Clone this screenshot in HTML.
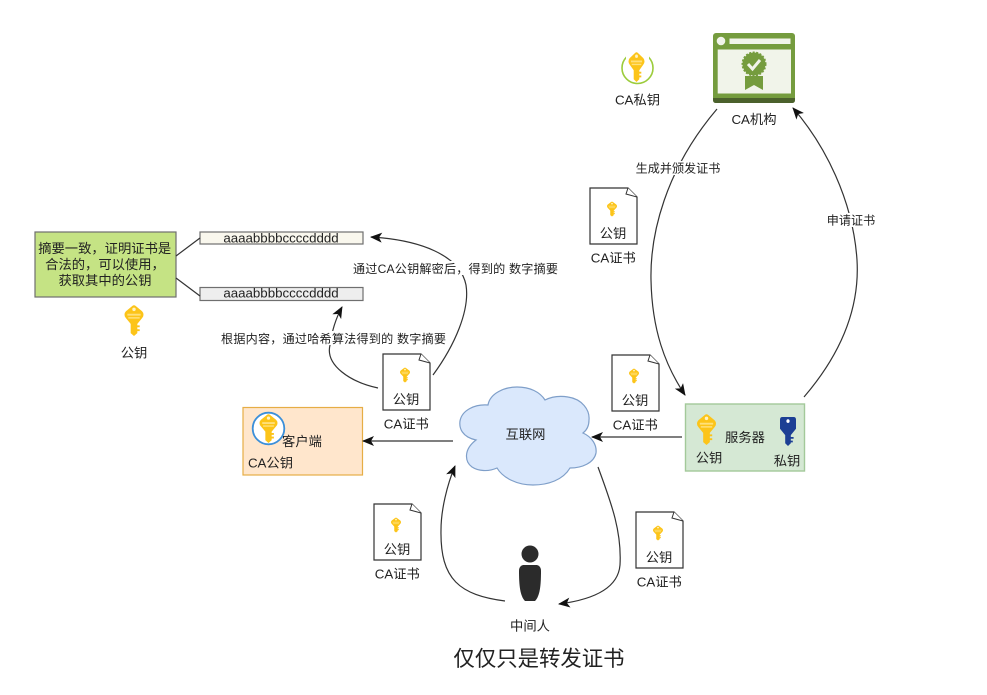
<!DOCTYPE html>
<html><head><meta charset="utf-8">
<style>
html,body{margin:0;padding:0;background:#fff;width:987px;height:695px;overflow:hidden}
svg{display:block}
text{font-family:"Liberation Sans","Noto Sans CJK SC",sans-serif;font-size:13.3px;fill:#222;text-anchor:middle}
text.s{font-size:12.1px}
.c{fill:none;stroke:#333;stroke-width:1.2}
</style></head><body>
<svg width="987" height="695" viewBox="0 0 987 695" xmlns="http://www.w3.org/2000/svg">
<defs>
<marker id="a" viewBox="0 0 12 10" refX="11" refY="5" markerWidth="12" markerHeight="10" markerUnits="userSpaceOnUse" orient="auto"><path d="M0,0 L12,5 L0,10 L3,5 Z" fill="#111"/></marker>
<symbol id="k" viewBox="0 0 20 32" preserveAspectRatio="none">
<path d="M8.500,0.800 Q10,-0.200 11.500,0.800 L18.500,6.500 Q20,8 20,10 Q20,12 18.500,13.500 L13.500,19.500 V21 H16 V23 H13.500 V25 H16 V27 H13.500 V29 L10,32 L6.500,29 V19.500 L1.500,13.500 Q0,12 0,10 Q0,8 1.500,6.500 Z" fill="#fcc419"/>
<circle cx="10" cy="4.500" r="1.800" fill="#fff3c4"/>
<path d="M3,9 H17 V11 H3 Z M4,12.500 H16 V14 H4 Z" fill="#ffe07a"/>
</symbol>
<symbol id="kb" viewBox="0 0 20 32" preserveAspectRatio="none">
<path d="M3,0 H17 Q20,0 20,3 V13 L13.500,20 V22 H17 V24 H13.500 V26 H16 V28 H13.500 V29 L10,32 L6.500,29 V20 L0,13 V3 Q0,0 3,0 Z" fill="#1c3f94"/>
<circle cx="10" cy="4.500" r="2" fill="#fff"/>
</symbol>
</defs>

<!-- left section -->
<rect x="35" y="232" width="141" height="65" fill="#c5e384" stroke="#6f6f6f" stroke-width="1.2"/>
<text x="104.700" y="253">摘要一致，证明证书是</text>
<text x="105" y="269">合法的，可以使用，</text>
<text x="105" y="285">获取其中的公钥</text>
<rect x="200" y="232" width="163" height="12" fill="#f9f7ed" stroke="#6f6f6f" stroke-width="1.2"/>
<rect x="200" y="287.500" width="163" height="13" fill="#eeeeee" stroke="#6f6f6f" stroke-width="1.2"/>
<text x="281" y="242.500">aaaabbbbccccdddd</text>
<text x="281" y="297.500">aaaabbbbccccdddd</text>
<path d="M176,256 L200,238 M176,278 L200,296" class="c"/>
<use href="#k" x="124.500" y="305" width="19" height="31"/>
<text x="134" y="357.500">公钥</text>

<!-- client -->
<rect x="243" y="407.500" width="119.500" height="67.500" fill="#ffe6cc" stroke="#e6ad45" stroke-width="1.2"/>
<circle cx="268.500" cy="428.500" r="15.800" fill="#fff" stroke="#3b8fd9" stroke-width="1.8"/>
<use href="#k" x="259.500" y="414" width="18" height="29"/>
<text x="302" y="446">客户端</text>
<text x="270.500" y="467.500">CA公钥</text>

<!-- cloud -->
<path d="M476,440 C462,437 459,428 460,421 C462,410 475,404 488,405 C490,393 505,387 517,387 C530,387 540,392 545,400 C553,396 562,396 568,397 C582,399 590,410 589,420 C589,426 587,430 583,433 C592,437 597,445 596,453 C594,463 582,468 570,468 C563,480 548,485 533,485 C517,485 503,478 497,468 C488,472 478,471 472,467 C465,462 463,450 476,440 Z" fill="#dae8fc" stroke="#7f9fc9" stroke-width="1.2"/>
<text x="525.500" y="439">互联网</text>

<!-- CA icon -->
<rect x="713" y="33" width="82" height="70" rx="3" fill="#759c3e"/>
<path d="M713,98 H795 V100 Q795,103 792,103 H716 Q713,103 713,100 Z" fill="#4b612c"/>
<circle cx="721" cy="41" r="4.300" fill="#f1f4ea"/>
<rect x="729.500" y="38.500" width="61" height="5.500" fill="#f1f4ea"/>
<rect x="717.700" y="49.500" width="73.300" height="44" fill="#f1f4ea"/>
<path d="M745,76 V90 L754,85 L763,90 V76 Z" fill="#759c3e"/>
<circle cx="754" cy="64" r="11.500" fill="#759c3e" stroke="#759c3e" stroke-width="2" stroke-dasharray="2 1.500"/>
<path d="M748,64 L752.500,69 L760,60" fill="none" stroke="#f1f4ea" stroke-width="3"/>
<text x="754" y="124">CA机构</text>

<!-- CA private key -->
<circle cx="637.500" cy="68" r="15.500" fill="#fff" stroke="#9ccc3c" stroke-width="1.6"/>
<rect x="626" y="50" width="23" height="10" fill="#fff"/>
<use href="#k" x="628.500" y="52" width="16" height="30"/>
<text x="637.500" y="104.500">CA私钥</text>

<!-- curves -->
<path d="M717,109 C665,170 650,235 651,280 C652,330 665,365 685,395" class="c" marker-end="url(#a)"/>
<path d="M804,397 C840,355 860,310 857,260 C853,200 825,145 793,108" class="c" marker-end="url(#a)"/>
<path d="M682,437 L592,437" class="c" marker-end="url(#a)"/>
<path d="M453,441 L363,441" class="c" marker-end="url(#a)"/>
<path d="M433,375 C455,345 470,310 466,285 C460,255 420,240 371,237" class="c" marker-end="url(#a)"/>
<path d="M378,388 C350,382 325,365 330,345 C332,330 336,318 342,307" class="c" marker-end="url(#a)"/>
<path d="M505,601 C460,595 440,580 441,530 C441,510 447,485 455,466" class="c" marker-end="url(#a)"/>
<path d="M598,467 C610,500 622,530 620,565 C618,590 590,600 559,604" class="c" marker-end="url(#a)"/>

<!-- edge labels -->
<rect x="635" y="161" width="86" height="14" fill="#fff"/>
<text class="s" x="678" y="172.500">生成并颁发证书</text>
<rect x="827" y="213" width="48" height="14" fill="#fff"/>
<text class="s" x="851" y="224.500">申请证书</text>
<rect x="353" y="261" width="205" height="14" fill="#fff"/>
<text class="s" x="455.500" y="273" textLength="205">通过CA公钥解密后，得到的 数字摘要</text>
<rect x="221" y="331" width="225" height="14" fill="#fff"/>
<text class="s" x="333.500" y="343" textLength="225">根据内容，通过哈希算法得到的 数字摘要</text>

<!-- certificates -->
<g id="d1">
<path d="M590,188 H628 L637,197 V244 H590 Z" fill="#fff" stroke="#333" stroke-width="1.2"/>
<path d="M628,188 L626,194 L637,197" fill="#fff" stroke="#333" stroke-width="1"/>
<use href="#k" x="607" y="201.500" width="10" height="15"/>
<text x="613" y="238">公钥</text>
<text x="613.300" y="262.500">CA证书</text>
</g>
<use href="#d1" x="22" y="167"/>
<use href="#d1" x="-207" y="166"/>
<use href="#d1" x="-216" y="316"/>
<use href="#d1" x="46" y="324"/>

<!-- server -->
<rect x="685.500" y="404" width="119" height="67" fill="#d5e8d4" stroke="#a3c99a" stroke-width="1.4"/>
<use href="#k" x="697" y="414" width="19" height="31"/>
<text x="709" y="462.500">公钥</text>
<text x="745" y="442">服务器</text>
<use href="#kb" x="780" y="417" width="16" height="29"/>
<text x="787" y="465.500">私钥</text>

<!-- person -->
<circle cx="530" cy="554" r="8.500" fill="#2b2b2b"/>
<path d="M523,565 H537 Q541,566 541,571 C541,585 540,596 535,601 H525 C520,596 519,585 519,571 Q519,566 523,565 Z" fill="#2b2b2b"/>
<text x="530" y="630.500">中间人</text>

<text x="539" y="666" style="font-size:21.400px;fill:#222">仅仅只是转发证书</text>
</svg>
</body></html>
